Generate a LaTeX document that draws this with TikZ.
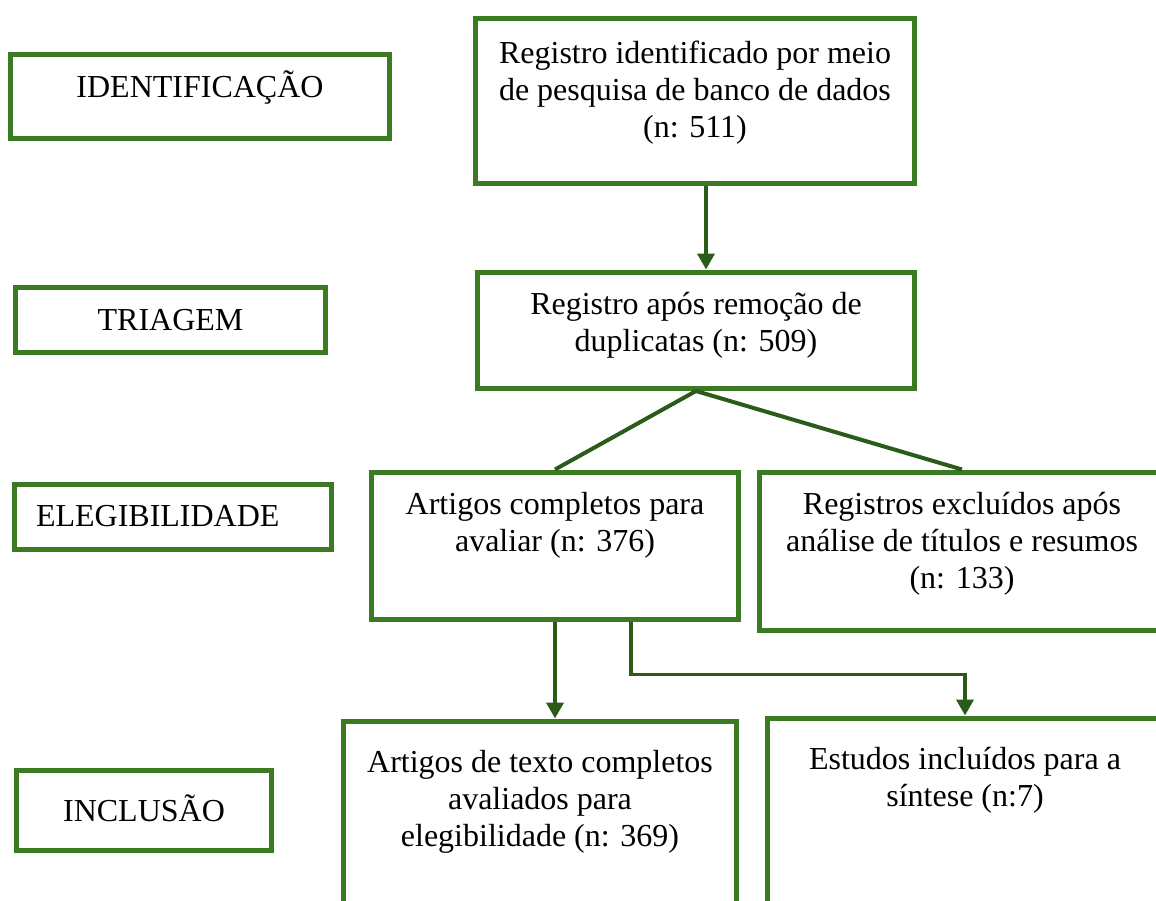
\documentclass[tikz,border=0pt]{standalone}
\usepackage{fontspec}
\setmainfont{Liberation Serif}
\usetikzlibrary{arrows.meta}
\definecolor{verde}{RGB}{59,121,34}
\definecolor{escuro}{RGB}{43,91,24}
\begin{document}
\begin{tikzpicture}[x=1pt,y=-1pt,
  caixa/.style={draw=verde, line width=5.5pt, inner sep=0pt, align=center, anchor=north, font=\fontsize{32}{37}\selectfont},
  seta/.style={draw=escuro, line width=3.8pt, -{Triangle[width=17pt,length=16pt]}},
  liga/.style={draw=escuro, line width=4pt}]
\useasboundingbox (0,0) rectangle (1156,900);
\clip (0,0) rectangle (1156,900);
\node [caixa, minimum width=379pt, text height=43.5pt, text depth=40.5pt] (ident) at (200,51.5) {IDENTIFICAÇÃO};
\node [caixa, minimum width=310pt, text height=43pt, text depth=22pt] (triag) at (170.5,284.5) {TRIAGEM};
\node [caixa, text width=274pt, inner xsep=21.5pt, align=left, text height=42.5pt, text depth=22.5pt] (eleg) at (173,481.5) {ELEGIBILIDADE};
\node [caixa, minimum width=255pt, text height=51.5pt, text depth=28.5pt] (incl) at (144,767.5) {INCLUSÃO};
\node [caixa, minimum width=439pt, text height=119.5pt, text depth=45.5pt] (reg) at (695,15.5) {Registro identificado por meio\\de pesquisa de banco de dados\\(n: 511)};
\node [caixa, minimum width=437pt, text height=79.5pt, text depth=36.5pt] (dup) at (696,269.5) {Registro após remoção de\\duplicatas (n: 509)};
\node [caixa, minimum width=367pt, text height=79pt, text depth=68pt] (aval) at (555,469.5) {Artigos completos para\\avaliar (n: 376)};
\node [caixa, minimum width=405pt, text height=116pt, text depth=42pt] (excl) at (962,469.5) {Registros excluídos após\\análise de títulos e resumos\\(n: 133)};
\node [caixa, minimum width=393pt, text height=125.5pt, text depth=66pt] (txt) at (540,718.5) {Artigos de texto completos\\avaliados para\\elegibilidade (n: 369)};
\node [caixa, minimum width=395pt, text height=88.5pt, text depth=106pt] (sint) at (965,715.5) {Estudos incluídos para a\\síntese (n:7)};
\draw [seta] ([xshift=11pt]reg.south) -- ([xshift=10pt]dup.north);
\draw [liga] (dup.south) -- (aval.north);
\draw [liga] (dup.south) -- (excl.north);
\draw [seta] (aval.south) -- (aval.south |- txt.north);
\draw [seta] ([xshift=76pt]aval.south) -- ++(0,52.5) -| (sint.north);
\end{tikzpicture}
\end{document}
